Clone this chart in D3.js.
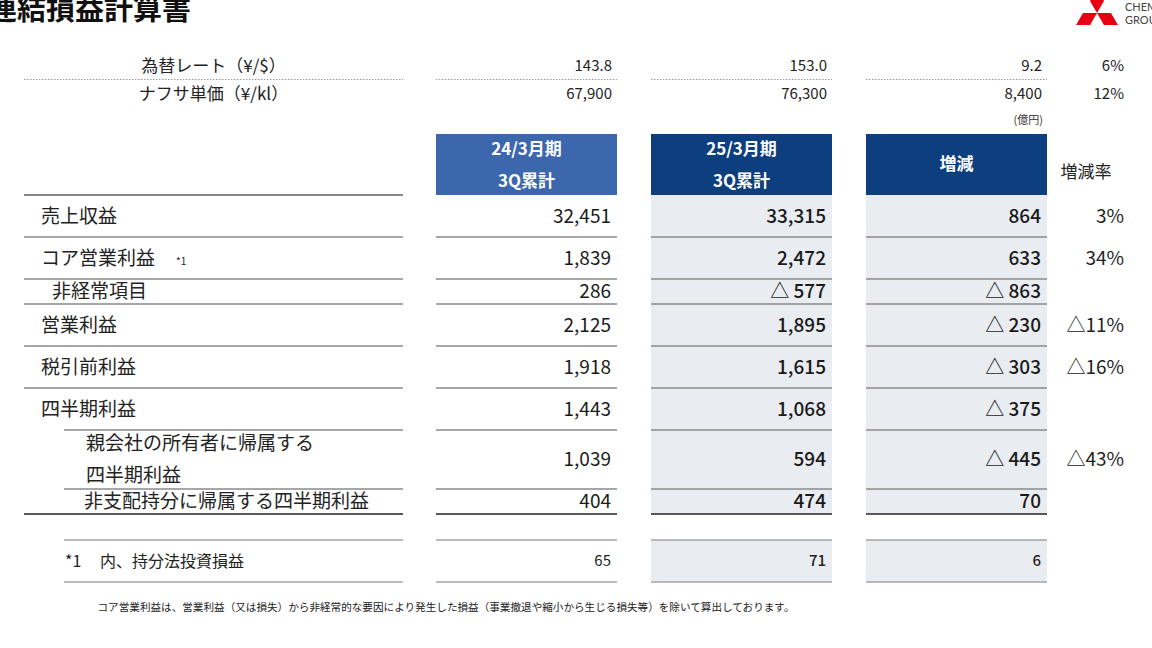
<!DOCTYPE html>
<html>
<head>
<meta charset="utf-8">
<script src="https://cdn.jsdelivr.net/npm/d3@7"></script>
<style>
  body { margin: 0; background: #fff; }
  svg { display: block; font-family: "Noto Sans CJK JP", "Noto Sans", sans-serif; }
</style>
</head>
<body>
<div id="chart"></div>
<script>
// data (億円)
var colKeys = ["fy24", "fy25", "diff"];
var colHeaders = [["24/3月期", "3Q累計"], ["25/3月期", "3Q累計"], ["増減"]];
var rateHeader = "増減率";
var unitLabel = "(億円)";

var fxLabels = ["為替レート（¥/$）", "ナフサ単価（¥/kl）"];
var fxFy24 = [143.8, 67900];
var fxFy25 = [153.0, 76300];
var fxDiff = [9.2, 8400];
var fxRate = [6, 12];

var rowLabels = ["売上収益", "コア営業利益", "非経常項目", "営業利益", "税引前利益",
  "四半期利益", "親会社の所有者に帰属する\n四半期利益", "非支配持分に帰属する四半期利益"];
var fy24 = [32451, 1839, 286, 2125, 1918, 1443, 1039, 404];
var fy25 = [33315, 2472, -577, 1895, 1615, 1068, 594, 474];
var diff = [864, 633, -863, -230, -303, -375, -445, 70];
var rate = [3, 34, null, -11, -16, null, -43, null];

var equityLabel = ["*1", "内、持分法投資損益"];
var equityVals = [65, 71, 6];

var noteText = "コア営業利益は、営業利益（又は損失）から非経常的な要因により発生した損益（事業撤退や縮小から生じる損失等）を除いて算出しております。";

// layout
var W = 1152, H = 648;
var rowHeights = [42, 42, 25, 42, 42, 42, 59, 25];
var rowIndent = [41, 41, 52, 41, 41, 41, 86, 84];
var lineStart = [24, 24, 24, 24, 24, 64, 64, 24];
var bodyTop = 195;
var labelLeft = 24, labelRight = 403;

var svg = d3.select("#chart").append("svg")
  .attr("width", W)
  .attr("height", H);

var x = d3.scaleBand()
  .domain(colKeys)
  .range([436, 1047])
  .paddingInner(34 / 215);

// cumulative row tops -> ordinal scale
var tops = [];
rowHeights.reduce(function(acc, h) { tops.push(acc); return acc + h; }, bodyTop);
var y = d3.scaleOrdinal().domain(d3.range(rowLabels.length)).range(tops);
var bodyBottom = bodyTop + d3.sum(rowHeights);

var fmtInt = d3.format(",");
function tri(v, f, sp) {
  if (v == null) return "";
  return (v < 0 ? "△" + (sp ? " " : "") : "") + f(Math.abs(v));
}

// title
svg.append("text")
  .attr("x", -12).attr("y", 20)
  .style("font-size", "29px").style("font-weight", 700)
  .attr("fill", "#111")
  .text("連結損益計算書");

// logo
var logo = svg.append("g").attr("transform", "translate(1097,13)");
[0, 120, 240].forEach(function(a) {
  logo.append("path")
    .attr("d", "M0,0 L7,-12.1 L0,-24.2 L-7,-12.1 Z")
    .attr("transform", "rotate(" + a + ")")
    .attr("fill", "#e60012");
});
svg.append("text").attr("x", 1125).attr("y", 11).style("font-size", "11px").attr("fill", "#444")
  .style("font-family", "Lato, sans-serif").text("CHEMICAL");
svg.append("text").attr("x", 1125).attr("y", 24).style("font-size", "11px").attr("fill", "#444")
  .style("font-family", "Lato, sans-serif").text("GROUP");

// fx / naphtha rows
var fxY = d3.scalePoint().domain(d3.range(fxLabels.length)).range([66, 94]);
var fxCols = [fxFy24, fxFy25, fxDiff];
var fxFmt = [d3.format(".1f"), fmtInt];

fxLabels.forEach(function(lbl, i) {
  svg.append("text")
    .attr("x", (labelLeft + labelRight) / 2).attr("y", fxY(i)).attr("dy", "0.36em")
    .attr("text-anchor", "middle")
    .style("font-size", "17px").attr("fill", "#222")
    .text(lbl);
  fxCols.forEach(function(arr, c) {
    svg.append("text")
      .attr("x", x(colKeys[c]) + x.bandwidth() - 5).attr("y", fxY(i)).attr("dy", "0.36em")
      .attr("text-anchor", "end")
      .style("font-size", "15px").attr("fill", "#222")
      .text(fxFmt[i](arr[i]));
  });
  svg.append("text")
    .attr("x", 1124).attr("y", fxY(i)).attr("dy", "0.36em")
    .attr("text-anchor", "end")
    .style("font-size", "15px").attr("fill", "#222")
    .text(fxRate[i] + "%");
});

// dotted separators under fx row
[[labelLeft, labelRight]].concat(colKeys.map(function(k) { return [x(k), x(k) + x.bandwidth()]; }))
  .forEach(function(s) {
    svg.append("line")
      .attr("x1", s[0]).attr("x2", s[1]).attr("y1", 79.5).attr("y2", 79.5)
      .attr("stroke", "#999").attr("stroke-width", 1)
      .attr("stroke-dasharray", "1.5,1.5");
  });

svg.append("text")
  .attr("x", 1043).attr("y", 124)
  .attr("text-anchor", "end")
  .style("font-size", "11px").attr("fill", "#333")
  .text(unitLabel);

// header boxes
var headFill = ["#3d67ad", "#0d3e7d", "#0d3e7d"];
colKeys.forEach(function(k, c) {
  svg.append("rect")
    .attr("x", x(k)).attr("y", 134)
    .attr("width", x.bandwidth()).attr("height", bodyTop - 134)
    .attr("fill", headFill[c]);
  var lines = colHeaders[c];
  var hy = d3.scalePoint().domain(d3.range(lines.length)).range(lines.length > 1 ? [149, 181] : [164, 164]);
  lines.forEach(function(t, j) {
    svg.append("text")
      .attr("x", x(k) + x.bandwidth() / 2).attr("y", hy(j)).attr("dy", "0.36em")
      .attr("text-anchor", "middle")
      .style("font-size", "17px").style("font-weight", 700)
      .attr("fill", "#fff")
      .text(t);
  });
});
svg.append("text")
  .attr("x", 1086).attr("y", 172).attr("dy", "0.36em")
  .attr("text-anchor", "middle")
  .style("font-size", "17px").attr("fill", "#222")
  .text(rateHeader);

// header underline for label column
svg.append("line")
  .attr("x1", labelLeft).attr("x2", labelRight).attr("y1", bodyTop).attr("y2", bodyTop)
  .attr("stroke", "#111").attr("stroke-width", 1.2);

// shaded body for current year and diff
["fy25", "diff"].forEach(function(k) {
  svg.append("rect")
    .attr("x", x(k)).attr("y", bodyTop)
    .attr("width", x.bandwidth()).attr("height", bodyBottom - bodyTop)
    .attr("fill", "#e9edf1");
});

// rows
var vals = [fy24, fy25, diff];
rowLabels.forEach(function(lbl, i) {
  var top = y(i), h = rowHeights[i], mid = top + h / 2;
  var parts = lbl.split("\n");
  parts.forEach(function(p, j) {
    svg.append("text")
      .attr("x", rowIndent[i])
      .attr("y", mid + (j - (parts.length - 1) / 2) * 32).attr("dy", "0.36em")
      .style("font-size", "19px").attr("fill", "#222")
      .text(p);
  });
  if (i === 1) {
    svg.append("text")
      .attr("x", 176).attr("y", mid + 3).attr("dy", "0.36em")
      .style("font-size", "10px").attr("fill", "#222")
      .text("*1");
  }
  vals.forEach(function(arr, c) {
    svg.append("text")
      .attr("x", x(colKeys[c]) + x.bandwidth() - 6).attr("y", mid).attr("dy", "0.36em")
      .attr("text-anchor", "end")
      .style("font-size", "19px").style("font-weight", c === 0 ? 400 : 500)
      .attr("fill", "#1a1a1a")
      .text(tri(arr[i], fmtInt, true));
  });
  svg.append("text")
    .attr("x", 1124).attr("y", mid).attr("dy", "0.36em")
    .attr("text-anchor", "end")
    .style("font-size", "19px").attr("fill", "#222")
    .text(tri(rate[i], function(v) { return v + "%"; }, false));

  // separator under the row
  var last = i === rowLabels.length - 1;
  var segs = [[lineStart[i], labelRight]].concat(colKeys.map(function(k) { return [x(k), x(k) + x.bandwidth()]; }));
  segs.forEach(function(s) {
    svg.append("line")
      .attr("x1", s[0]).attr("x2", s[1])
      .attr("y1", top + h).attr("y2", top + h)
      .attr("stroke", last ? "#222" : "#8a8a8a")
      .attr("stroke-width", last ? 1.4 : 1.3);
  });
});

// equity-method footnote row
var eqTop = 540, eqBot = 582, eqMid = (eqTop + eqBot) / 2;
["fy25", "diff"].forEach(function(k) {
  svg.append("rect")
    .attr("x", x(k)).attr("y", eqTop)
    .attr("width", x.bandwidth()).attr("height", eqBot - eqTop)
    .attr("fill", "#e9edf1");
});
[[64, labelRight]].concat(colKeys.map(function(k) { return [x(k), x(k) + x.bandwidth()]; }))
  .forEach(function(s) {
    [eqTop, eqBot].forEach(function(yy) {
      svg.append("line")
        .attr("x1", s[0]).attr("x2", s[1]).attr("y1", yy).attr("y2", yy)
        .attr("stroke", "#a5a5a5").attr("stroke-width", 1.6);
    });
  });
svg.append("text").attr("x", 65).attr("y", eqMid).attr("dy", "0.36em")
  .style("font-size", "16px").attr("fill", "#222").text(equityLabel[0]);
svg.append("text").attr("x", 100).attr("y", eqMid).attr("dy", "0.36em")
  .style("font-size", "16px").attr("fill", "#222").text(equityLabel[1]);
equityVals.forEach(function(v, c) {
  svg.append("text")
    .attr("x", x(colKeys[c]) + x.bandwidth() - 6).attr("y", eqMid).attr("dy", "0.36em")
    .attr("text-anchor", "end")
    .style("font-size", "15px").style("font-weight", c === 0 ? 400 : 500)
    .attr("fill", "#222")
    .text(tri(v, fmtInt, true));
});

// note
svg.append("text")
  .attr("x", 446).attr("y", 607).attr("dy", "0.36em")
  .attr("text-anchor", "middle")
  .style("font-size", "10.6px").attr("fill", "#222")
  .text(noteText);
</script>
</body>
</html>
